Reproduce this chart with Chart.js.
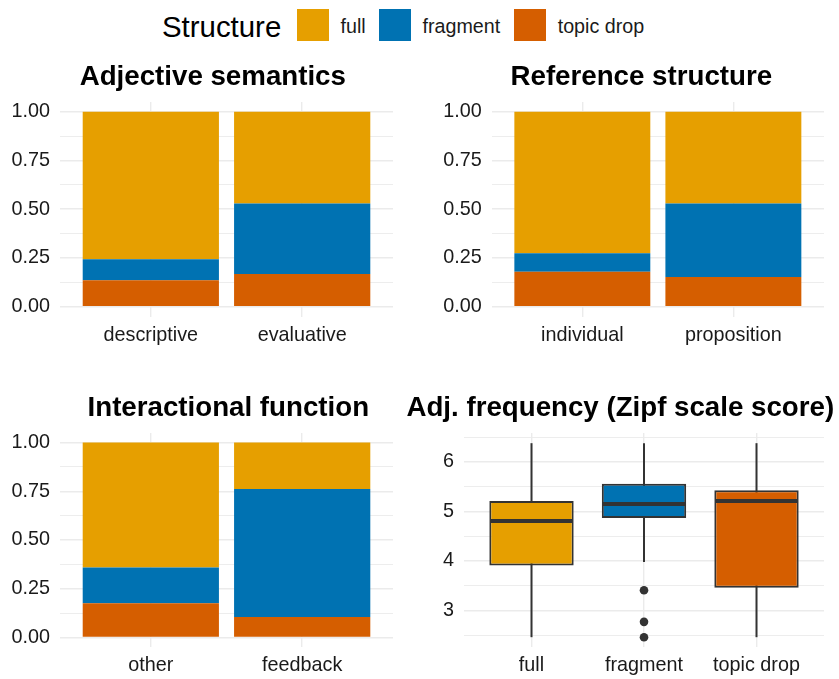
<!DOCTYPE html>
<html>
<head>
<meta charset="utf-8">
<script src="https://cdn.jsdelivr.net/npm/chart.js@4/dist/chart.umd.min.js"></script>
<style>
  html, body { margin: 0; padding: 0; background: #fff; }
  #fig { position: relative; width: 839px; height: 679px; overflow: hidden;
         font-family: 'Liberation Sans', Arial, Helvetica, sans-serif; color: #000; }
  canvas { position: absolute; }
  .txt { position: absolute; white-space: nowrap; line-height: 1; }
  .ttl { font-weight: bold; font-size: 27.7px; transform: translateX(-50%); }
  .lgt { font-size: 29.4px; }
  .lgl { font-size: 19.7px; color: #1a1a1a; }
  .key { position: absolute; width: 32px; height: 32px; }
</style>
</head>
<body>
<div id="fig">
  <canvas id="cAdj" width="420" height="275" style="left:0;top:80px"></canvas>
  <canvas id="cRef" width="419" height="275" style="left:420px;top:80px"></canvas>
  <canvas id="cInt" width="420" height="268" style="left:0;top:411px"></canvas>
  <canvas id="cZipf" width="419" height="268" style="left:420px;top:411px"></canvas>

  <div class="txt lgt" style="left:162px;top:11.7px">Structure</div>
  <div class="key" style="left:297px;top:9px;background:#E69F00"></div>
  <div class="txt lgl" style="left:340.5px;top:16.6px">full</div>
  <div class="key" style="left:379px;top:9px;background:#0072B2"></div>
  <div class="txt lgl" style="left:422.5px;top:16.6px">fragment</div>
  <div class="key" style="left:514px;top:9px;background:#D55E00"></div>
  <div class="txt lgl" style="left:557.7px;top:16.6px">topic drop</div>

  <div class="txt ttl" style="left:212.8px;top:62.2px">Adjective semantics</div>
  <div class="txt ttl" style="left:641.3px;top:62.2px">Reference structure</div>
  <div class="txt ttl" style="left:228.3px;top:393px">Interactional function</div>
  <div class="txt ttl" style="left:620.3px;top:393px">Adj. frequency (Zipf scale score)</div>
</div>

<script>
// ---- data ----
const structureLabels = ['full', 'fragment', 'topic drop'];
const structureColors = ['#E69F00', '#0072B2', '#D55E00'];

// proportions of each structure within each category (stacked to 1)
const adjCats = ['descriptive', 'evaluative'];
const adjFull = [0.757, 0.471];
const adjFragment = [0.107, 0.361];
const adjTopicDrop = [0.136, 0.168];

const refCats = ['individual', 'proposition'];
const refFull = [0.726, 0.471];
const refFragment = [0.095, 0.377];
const refTopicDrop = [0.179, 0.152];

const intCats = ['other', 'feedback'];
const intFull = [0.641, 0.238];
const intFragment = [0.184, 0.658];
const intTopicDrop = [0.175, 0.104];

// Zipf frequency summaries per structure
const zipfCats = ['full', 'fragment', 'topic drop'];
const zipfLower = [2.46, 3.98, 2.46];
const zipfQ1 = [3.91, 4.87, 3.46];
const zipfMedian = [4.81, 5.15, 5.21];
const zipfQ3 = [5.21, 5.56, 5.43];
const zipfUpper = [6.38, 6.38, 6.38];
const zipfOutliers = [[], [3.41, 2.77, 2.46], []];

const propTicks = [0, 0.125, 0.25, 0.375, 0.5, 0.625, 0.75, 0.875, 1];
const zipfTicks = [2.5, 3, 3.5, 4, 4.5, 5, 5.5, 6, 6.5];

// ---- shared style ----
Chart.defaults.font.family = "'Liberation Sans', Arial, Helvetica, sans-serif";
Chart.defaults.font.size = 19.8;
Chart.defaults.color = '#1a1a1a';
Chart.defaults.animation = false;

const GRID = '#EBEBEB';

function xAxis(cats, height) {
  return {
    type: 'linear',
    min: 0.4,
    max: cats.length + 0.6,
    offset: false,
    stacked: true,
    border: { display: false },
    grid: { color: GRID, lineWidth: 1.4, drawTicks: false, offset: false },
    afterBuildTicks: s => { s.ticks = cats.map((c, i) => ({ value: i + 1 })); },
    afterFit: s => { s.height = height; },
    ticks: {
      padding: 7,
      maxRotation: 0,
      autoSkip: false,
      callback: v => cats[Math.round(v) - 1]
    }
  };
}

function yAxis(min, max, ticks, isMajor, fmt, width, stacked) {
  return {
    type: 'linear',
    min: min,
    max: max,
    stacked: stacked,
    border: { display: false },
    grid: {
      color: GRID,
      drawTicks: false,
      lineWidth: c => (c.tick && isMajor(c.tick.value)) ? 1.4 : 0.9
    },
    afterBuildTicks: s => { s.ticks = ticks.map(v => ({ value: v })); },
    afterFit: s => { s.width = width; },
    ticks: {
      padding: 10,
      autoSkip: false,
      callback: v => isMajor(v) ? fmt(v) : ''
    }
  };
}

function toPoints(vals) {
  return vals.map((v, i) => ({ x: i + 1, y: v }));
}

function stackedChart(id, cats, full, fragment, topicDrop, geom) {
  // bottom-to-top stacking: topic drop, fragment, full
  const series = [topicDrop, fragment, full];
  const order = [2, 1, 0];
  new Chart(document.getElementById(id), {
    type: 'bar',
    data: {
      datasets: series.map((vals, k) => ({
        label: structureLabels[order[k]],
        data: toPoints(vals),
        backgroundColor: structureColors[order[k]],
        borderWidth: 0,
        barPercentage: 0.9,
        categoryPercentage: 1
      }))
    },
    options: {
      responsive: false,
      layout: { padding: { top: geom.top, right: geom.right, left: 0, bottom: 0 } },
      plugins: { legend: { display: false }, tooltip: { enabled: false } },
      scales: {
        x: xAxis(cats, geom.xh),
        y: yAxis(-0.05, 1.05, propTicks,
                 v => Math.abs(v * 4 - Math.round(v * 4)) < 1e-6,
                 v => v.toFixed(2), geom.yw, true)
      }
    }
  });
}

stackedChart('cAdj', adjCats, adjFull, adjFragment, adjTopicDrop,
             { top: 20.9, right: 27, yw: 60, xh: 38.5 });
stackedChart('cRef', refCats, refFull, refFragment, refTopicDrop,
             { top: 20.9, right: 15, yw: 71.7, xh: 38.5 });
stackedChart('cInt', intCats, intFull, intFragment, intTopicDrop,
             { top: 20.5, right: 27, yw: 60, xh: 31.9 });

// whiskers behind the boxes, median bars on top of them
const boxParts = {
  id: 'boxParts',
  beforeDatasetsDraw(chart) {
    const { ctx, scales: { x, y } } = chart;
    ctx.save();
    ctx.strokeStyle = '#333333';
    ctx.lineWidth = 2;
    zipfCats.forEach((c, i) => {
      const px = x.getPixelForValue(i + 1);
      ctx.beginPath();
      ctx.moveTo(px, y.getPixelForValue(zipfLower[i]));
      ctx.lineTo(px, y.getPixelForValue(zipfUpper[i]));
      ctx.stroke();
    });
    ctx.restore();
  },
  afterDatasetsDraw(chart) {
    const { ctx, scales: { y } } = chart;
    const meta = chart.getDatasetMeta(0);
    ctx.save();
    ctx.strokeStyle = '#333333';
    ctx.lineWidth = 4;
    ctx.lineCap = 'butt';
    meta.data.forEach((bar, i) => {
      const half = bar.width / 2;
      const py = y.getPixelForValue(zipfMedian[i]);
      ctx.beginPath();
      ctx.moveTo(bar.x - half + 1, py);
      ctx.lineTo(bar.x + half - 1, py);
      ctx.stroke();
    });
    ctx.restore();
  }
};

const outlierPoints = [];
zipfOutliers.forEach((list, i) => list.forEach(v => outlierPoints.push({ x: i + 1, y: v })));

const zipfX = xAxis(zipfCats, 32.3);
zipfX.stacked = false;

new Chart(document.getElementById('cZipf'), {
  type: 'bar',
  data: {
    datasets: [
      {
        label: 'box',
        data: zipfCats.map((c, i) => ({ x: i + 1, y: [zipfQ1[i], zipfQ3[i]] })),
        backgroundColor: structureColors,
        borderColor: '#333333',
        borderWidth: 2,
        borderSkipped: false,
        barPercentage: 0.75,
        categoryPercentage: 1
      },
      {
        type: 'scatter',
        label: 'outliers',
        data: outlierPoints,
        pointRadius: 4.3,
        pointBackgroundColor: '#333333',
        pointBorderWidth: 0
      }
    ]
  },
  options: {
    responsive: false,
    layout: { padding: { top: 20.7, right: 15, left: 0, bottom: 0 } },
    plugins: { legend: { display: false }, tooltip: { enabled: false } },
    scales: {
      x: zipfX,
      y: yAxis(2.268, 6.588, zipfTicks,
               v => Math.abs(v - Math.round(v)) < 1e-6,
               v => String(Math.round(v)), 44, false)
    }
  },
  plugins: [boxParts]
});
</script>
</body>
</html>
